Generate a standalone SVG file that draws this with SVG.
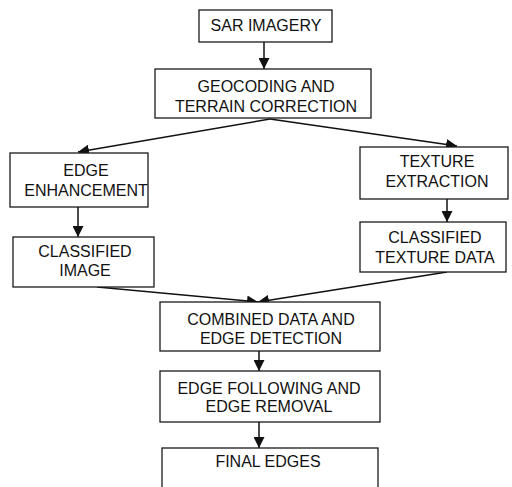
<svg xmlns="http://www.w3.org/2000/svg" width="512" height="487" viewBox="0 0 512 487">
<style>
.box{fill:#fff;stroke:#1a1a1a;stroke-width:1.3}
.t{font-family:"Liberation Sans",Arial,sans-serif;font-size:16px;fill:#111;text-anchor:middle}
.c{fill:none;stroke:#111;stroke-width:1.5;marker-end:url(#ah)}
</style>
<defs>
<marker id="ah" markerUnits="userSpaceOnUse" markerWidth="11" markerHeight="11" refX="11" refY="5.5" orient="auto">
<path d="M0,0 L11,5.5 L0,11 z" fill="#111"/>
</marker>
</defs>
<rect width="512" height="487" fill="#fff"/>
<g id="connectors">
<line class="c" x1="264" y1="42" x2="264" y2="69"/>
<line class="c" x1="270" y1="119" x2="78" y2="152"/>
<line class="c" x1="270" y1="119" x2="457" y2="146"/>
<line class="c" x1="78" y1="207" x2="78" y2="237"/>
<line class="c" x1="447" y1="199" x2="447" y2="222"/>
<line class="c" x1="97" y1="287" x2="258" y2="302"/>
<line class="c" x1="447" y1="272" x2="258" y2="302"/>
<line class="c" x1="259" y1="351" x2="259" y2="371"/>
<line class="c" x1="259" y1="422" x2="259" y2="448"/>
</g>
<g id="sar"><rect class="box" x="199" y="10" width="133" height="32"/><text class="t" x="266" y="31">SAR IMAGERY</text></g>
<g id="geocoding"><rect class="box" x="155" y="69" width="216" height="49"/><text class="t" x="266" y="92">GEOCODING AND</text><text class="t" x="266" y="112">TERRAIN CORRECTION</text></g>
<g id="edge-enh"><rect class="box" x="10" y="153" width="138" height="54"/><text class="t" x="86" y="176">EDGE</text><text class="t" x="86" y="196">ENHANCEMENT</text></g>
<g id="texture-ext"><rect class="box" x="360" y="147" width="148" height="52"/><text class="t" x="437" y="167">TEXTURE</text><text class="t" x="437" y="187">EXTRACTION</text></g>
<g id="class-image"><rect class="box" x="13" y="237" width="141" height="50"/><text class="t" x="85" y="257">CLASSIFIED</text><text class="t" x="85" y="276">IMAGE</text></g>
<g id="class-texture"><rect class="box" x="360" y="222" width="146" height="50"/><text class="t" x="435" y="243">CLASSIFIED</text><text class="t" x="435" y="263">TEXTURE DATA</text></g>
<g id="combined"><rect class="box" x="160" y="302" width="220" height="49"/><text class="t" x="271" y="325">COMBINED DATA AND</text><text class="t" x="271" y="344">EDGE DETECTION</text></g>
<g id="edge-follow"><rect class="box" x="160" y="371" width="220" height="51"/><text class="t" x="269" y="394">EDGE FOLLOWING AND</text><text class="t" x="269" y="412">EDGE REMOVAL</text></g>
<g id="final"><rect class="box" x="162" y="448" width="216" height="60"/><text class="t" x="268" y="467">FINAL EDGES</text></g>
</svg>
